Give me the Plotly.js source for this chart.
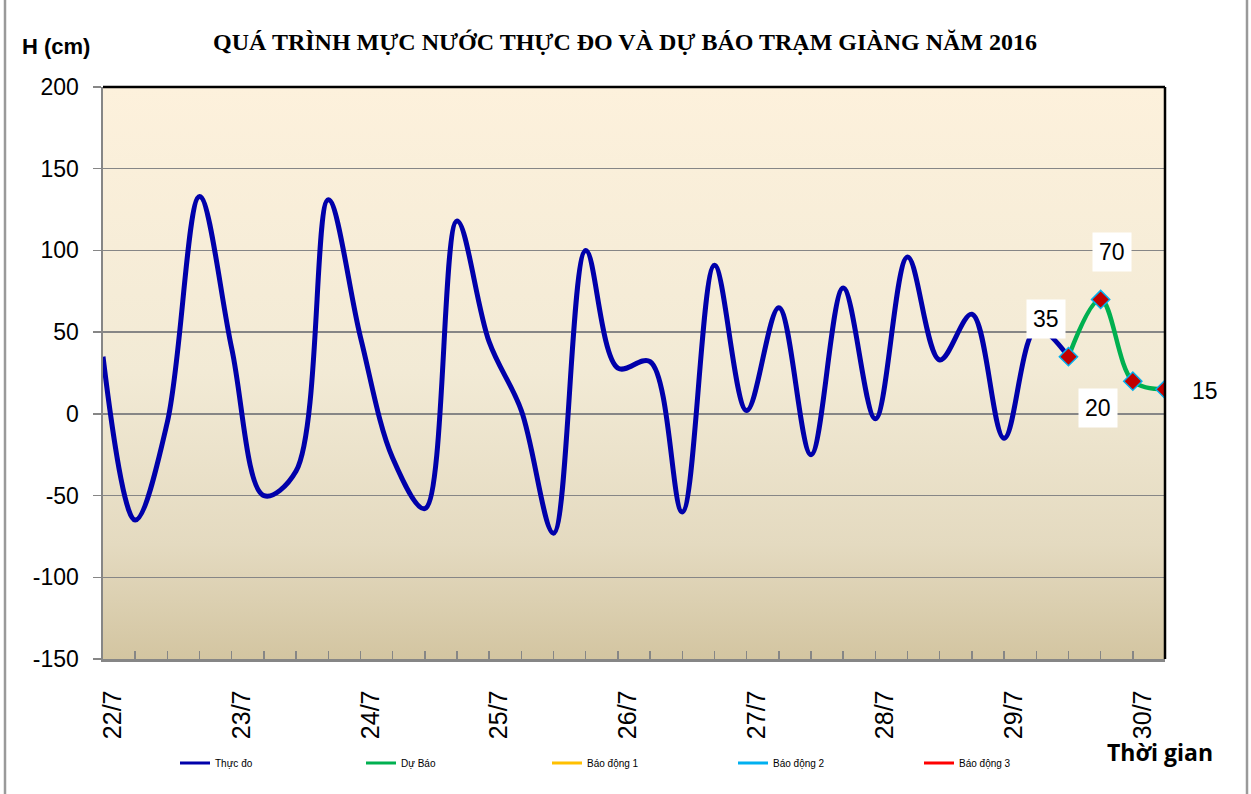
<!DOCTYPE html>
<html>
<head>
<meta charset="utf-8">
<script src="https://cdn.plot.ly/plotly-3.0.1.min.js"></script>
<style>
  html, body { margin: 0; padding: 0; background: #ffffff; }
  #chart { width: 1251px; height: 794px; }
</style>
</head>
<body>
<div id="chart"></div>
<script>
// ---- Data ----
const days = ['22/7', '23/7', '24/7', '25/7', '26/7', '27/7', '28/7', '29/7', '30/7'];
const hours = ['01h', '07h', '13h', '19h'];
const nTimes = 34;

// Observed water level (cm), 4 readings per day from 22/7 01h
const observed = [35, -65, -5, 133, 40, -50, -35, 131, 47, -27, -58, 118, 44, 2, -73, 100,
                  28, 32, -60, 91, 2, 65, -25, 77, -3, 96, 33, 61, -15, 52, 35];
// Forecast (cm), starting at the last observed time
const forecast = [35, 70, 20, 15];

// Alert levels (no values inside the plotted range)
const alert1 = [];
const alert2 = [];
const alert3 = [];

const yTicks = [-150, -100, -50, 0, 50, 100, 150, 200];

// ---- Build categories ----
const times = [];
days.forEach(d => hours.forEach(h => times.push(d + ' ' + h)));
const cats = times.slice(0, nTimes);
const obsX = cats.slice(0, observed.length);
const fcX = cats.slice(observed.length - 1, observed.length - 1 + forecast.length);
const tickText = cats.map((c, i) => (i % 4 === 0 ? c.split(' ')[0] : ''));
const nulls = cats.map(() => null);

const legendOnly = (name, color) => ({
  name: name, x: cats, y: nulls, type: 'scatter', mode: 'lines',
  line: { color: color, width: 3 }, hoverinfo: 'skip'
});

const traces = [
  {
    name: 'Thực đo', x: obsX, y: observed, type: 'scatter', mode: 'lines', showlegend: false,
    line: { color: '#0000AA', width: 5, shape: 'spline', smoothing: 1 }
  },
  {
    name: 'Dự Báo', x: fcX, y: forecast, type: 'scatter', mode: 'lines+markers', showlegend: false,
    line: { color: '#00B050', width: 4.5, shape: 'spline', smoothing: 1 },
    marker: { symbol: 'diamond', size: 14, color: '#C00000', line: { color: '#00B0F0', width: 1.5 } }
  },
  legendOnly('Thực đo', '#0000AA'),
  legendOnly('Dự Báo', '#00B050'),
  { name: 'Báo động 1', x: cats, y: alert1.length ? alert1 : nulls, type: 'scatter', mode: 'lines',
    line: { color: '#FFC000', width: 3 } },
  { name: 'Báo động 2', x: cats, y: alert2.length ? alert2 : nulls, type: 'scatter', mode: 'lines',
    line: { color: '#00B0F0', width: 3 } },
  { name: 'Báo động 3', x: cats, y: alert3.length ? alert3 : nulls, type: 'scatter', mode: 'lines',
    line: { color: '#FF0000', width: 3 } }
];

// Forecast data labels
const labelShifts = [[-22, 38], [11, 47], [-35, -27], [40, -2]];
const labelAnns = forecast.map((v, i) => ({
  x: fcX[i], y: v, xref: 'x', yref: 'y', text: String(v), showarrow: false,
  xshift: labelShifts[i][0], yshift: labelShifts[i][1],
  font: { family: 'Liberation Sans, Arial', size: 23, color: '#000' },
  bgcolor: i === 3 ? 'rgba(0,0,0,0)' : '#ffffff', borderpad: 6
}));

const W = 1251, H = 794, L = 103, R = 1165, T = 87, B = 659;
const pw = R - L, ph = B - T;
const px = v => (v - L) / pw;
const py = v => (B - v) / ph;

const grad = "<svg xmlns='http://www.w3.org/2000/svg' width='10' height='100' preserveAspectRatio='none'>" +
  "<defs><linearGradient id='g' x1='0' y1='0' x2='0' y2='1'>" +
  "<stop offset='0' stop-color='#FDF1DC'/><stop offset='0.5' stop-color='#F2EAD5'/>" +
  "<stop offset='0.8' stop-color='#E4DAC0'/><stop offset='1' stop-color='#D3C5A1'/>" +
  "</linearGradient></defs><rect width='10' height='100' fill='url(#g)'/></svg>";

const layout = {
  width: W, height: H,
  margin: { l: L, r: W - R, t: T, b: H - B, pad: 0 },
  paper_bgcolor: '#ffffff',
  plot_bgcolor: 'rgba(0,0,0,0)',
  showlegend: true,
  title: {
    text: 'QUÁ TRÌNH MỰC NƯỚC THỰC ĐO VÀ DỰ BÁO TRẠM GIÀNG NĂM 2016',
    font: { family: 'Liberation Serif, Times New Roman, serif', size: 24, color: '#000', weight: 'bold' },
    x: 625 / W, xref: 'container', xanchor: 'center',
    y: 1 - 42 / H, yref: 'container', yanchor: 'middle'
  },
  xaxis: {
    type: 'category', categoryorder: 'array', categoryarray: cats,
    range: [0, nTimes - 1],
    tickmode: 'array', tickvals: cats, ticktext: tickText,
    tickangle: -90, ticks: 'inside', ticklen: 8, tickwidth: 1.5, tickcolor: '#868686',
    tickfont: { family: 'Liberation Sans, Arial', size: 25, color: '#000' },
    ticklabelstandoff: 19, ticklabelshift: 10,
    showgrid: false, zeroline: false,
    showline: true, linecolor: '#868686', linewidth: 2.5,
    fixedrange: true
  },
  yaxis: {
    range: [-150, 200], tickmode: 'array', tickvals: yTicks, ticktext: yTicks.map(String),
    ticks: 'outside', ticklen: 8, tickwidth: 1.5, tickcolor: '#868686',
    tickfont: { family: 'Liberation Sans, Arial', size: 23, color: '#000' },
    ticklabelstandoff: 9,
    showgrid: true, gridcolor: '#868686', gridwidth: 1.5,
    zeroline: false,
    showline: true, linecolor: '#868686', linewidth: 2.5,
    fixedrange: true
  },
  legend: {
    orientation: 'h', x: px(175), xanchor: 'left', y: py(763), yanchor: 'middle',
    font: { family: 'Liberation Sans, Arial', size: 10, color: '#000' },
    entrywidth: 141, entrywidthmode: 'pixels', bgcolor: 'rgba(0,0,0,0)', itemclick: false
  },
  images: [{
    source: 'data:image/svg+xml;charset=utf-8,' + encodeURIComponent(grad),
    xref: 'paper', yref: 'paper', x: 0, y: 1, sizex: 1, sizey: 1,
    xanchor: 'left', yanchor: 'top', sizing: 'stretch', layer: 'below'
  }],
  shapes: [
    { type: 'line', xref: 'paper', yref: 'paper', x0: 0, x1: 1, y0: 1, y1: 1, line: { color: '#000', width: 2.5 } },
    { type: 'line', xref: 'paper', yref: 'paper', x0: 1, x1: 1, y0: 0, y1: 1, line: { color: '#000', width: 2.5 } },
    { type: 'line', xref: 'paper', yref: 'paper', x0: px(5), x1: px(5), y0: py(794), y1: py(0), line: { color: '#9a9a9a', width: 2.5 } },
    { type: 'line', xref: 'paper', yref: 'paper', x0: px(1247), x1: px(1247), y0: py(794), y1: py(0), line: { color: '#9a9a9a', width: 2.5 } }
  ],
  annotations: labelAnns.concat([
    { text: '<b>H (cm)</b>', xref: 'paper', yref: 'paper', x: px(56), y: py(47), showarrow: false,
      xanchor: 'center', yanchor: 'middle', font: { family: 'Liberation Sans, Arial', size: 22, color: '#000' } },
    { text: '<b>Thời gian</b>', xref: 'paper', yref: 'paper', x: px(1160), y: py(752), showarrow: false,
      xanchor: 'center', yanchor: 'middle', font: { family: 'Open Sans, Liberation Sans', size: 23, color: '#000' } }
  ])
};

Plotly.newPlot('chart', traces, layout, { displayModeBar: false, staticPlot: true });
</script>
</body>
</html>
